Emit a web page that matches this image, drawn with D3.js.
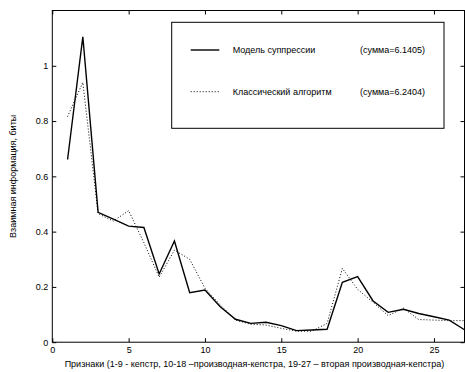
<!DOCTYPE html>
<html><head><meta charset="utf-8">
<script src="https://cdn.jsdelivr.net/npm/d3@7"></script>
<style>
html,body{margin:0;padding:0;background:#fff;}
svg{display:block;font-family:"Liberation Sans",Arial,sans-serif;}
</style></head>
<body><svg id="c" width="465" height="372"></svg>
<script>
const features = d3.range(1, 28);
const suppression = [0.661,1.105,0.470,0.445,0.420,0.415,0.247,0.366,0.179,0.189,0.128,0.083,0.068,0.072,0.060,0.042,0.044,0.047,0.217,0.237,0.150,0.108,0.119,0.104,0.092,0.080,0.045];
const classic = [0.816,0.940,0.465,0.438,0.476,0.360,0.235,0.333,0.300,0.195,0.135,0.080,0.065,0.062,0.050,0.040,0.040,0.068,0.267,0.191,0.145,0.096,0.123,0.082,0.080,0.078,0.078];
const xTicks = [0,5,10,15,20,25];
const yTicks = [0,0.2,0.4,0.6,0.8,1];
const seriesNames = ["Модель суппрессии","Классический алгоритм"];
const seriesSums = ["(сумма=6.1405)","(сумма=6.2404)"];
const xTitle = "Признаки (1-9 - кепстр, 10-18 –производная-кепстра, 19-27 – вторая производная-кепстра)";
const yTitle = "Взаимная информация, биты";

const svg = d3.select("#c");
const L=52.3, R=464.5, T=10.5, B=342.2;
const x = d3.scaleLinear().domain([0,27]).range([L,R]);
const y = d3.scaleLinear().domain([0,1.2]).range([B,T]);
const fs = 9;

// frame
svg.append("rect").attr("x",L).attr("y",T).attr("width",R-L).attr("height",B-T)
  .attr("fill","none").attr("stroke","#000").attr("stroke-width",1);

const tl = 4;
// axes (inward ticks)
const gx = svg.append("g").attr("transform",`translate(0,${B})`)
  .call(d3.axisBottom(x).tickValues(xTicks).tickFormat(d3.format("d")).tickSizeInner(-tl).tickSizeOuter(0).tickPadding(4));
const gxt = svg.append("g").attr("transform",`translate(0,${T})`)
  .call(d3.axisTop(x).tickValues(xTicks).tickFormat("").tickSizeInner(-tl).tickSizeOuter(0));
const gy = svg.append("g").attr("transform",`translate(${L},0)`)
  .call(d3.axisLeft(y).tickValues(yTicks).tickFormat(d=>d3.format("")(d)).tickSizeInner(-tl).tickSizeOuter(0).tickPadding(4));
const gyr = svg.append("g").attr("transform",`translate(${R},0)`)
  .call(d3.axisRight(y).tickValues(yTicks).tickFormat("").tickSizeInner(-tl).tickSizeOuter(0));
[gx,gxt,gy,gyr].forEach(g=>{
  g.select(".domain").remove();
  g.selectAll("line").attr("stroke","#000");
  g.selectAll("text").attr("font-size",fs).attr("fill","#000").attr("font-family","Liberation Sans, Arial, sans-serif");
});

// lines
const line = d3.line().x((d,i)=>x(features[i])).y(d=>y(d));
const clip = svg.append("clipPath").attr("id","pc").append("rect").attr("x",L).attr("y",T).attr("width",R-L+1).attr("height",B-T);
svg.append("path").datum(classic).attr("d",line).attr("fill","none").attr("stroke","#000")
  .attr("stroke-width",1).attr("stroke-dasharray","1,2").attr("clip-path","url(#pc)");
svg.append("path").datum(suppression).attr("d",line).attr("fill","none").attr("stroke","#000")
  .attr("stroke-width",1.4).attr("clip-path","url(#pc)");

// legend
const lg = svg.append("g");
lg.append("rect").attr("x",171.7).attr("y",22.3).attr("width",272.3).attr("height",106)
  .attr("fill","#fff").attr("stroke","#000").attr("stroke-width",1);
const rows = [{y:50, dash:null, w:1.4},{y:91.7, dash:"1,2", w:1}];
rows.forEach((r,i)=>{
  const ln = lg.append("line").attr("x1",190.7).attr("x2",219.3).attr("y1",r.y).attr("y2",r.y)
    .attr("stroke","#000").attr("stroke-width",r.w);
  if(r.dash) ln.attr("stroke-dasharray",r.dash);
  lg.append("text").attr("x",232.7).attr("y",r.y).attr("dy","0.35em").attr("font-size",fs).text(seriesNames[i]);
  lg.append("text").attr("x",360).attr("y",r.y).attr("dy","0.35em").attr("font-size",fs).text(seriesSums[i]);
});

// titles
svg.append("text").attr("x",(L+R)/2-4).attr("y",367).attr("text-anchor","middle").attr("font-size",fs).text(xTitle);
svg.append("text").attr("transform",`translate(15.5,${(T+B)/2}) rotate(-90)`).attr("text-anchor","middle").attr("font-size",fs).text(yTitle);
</script></body></html>
